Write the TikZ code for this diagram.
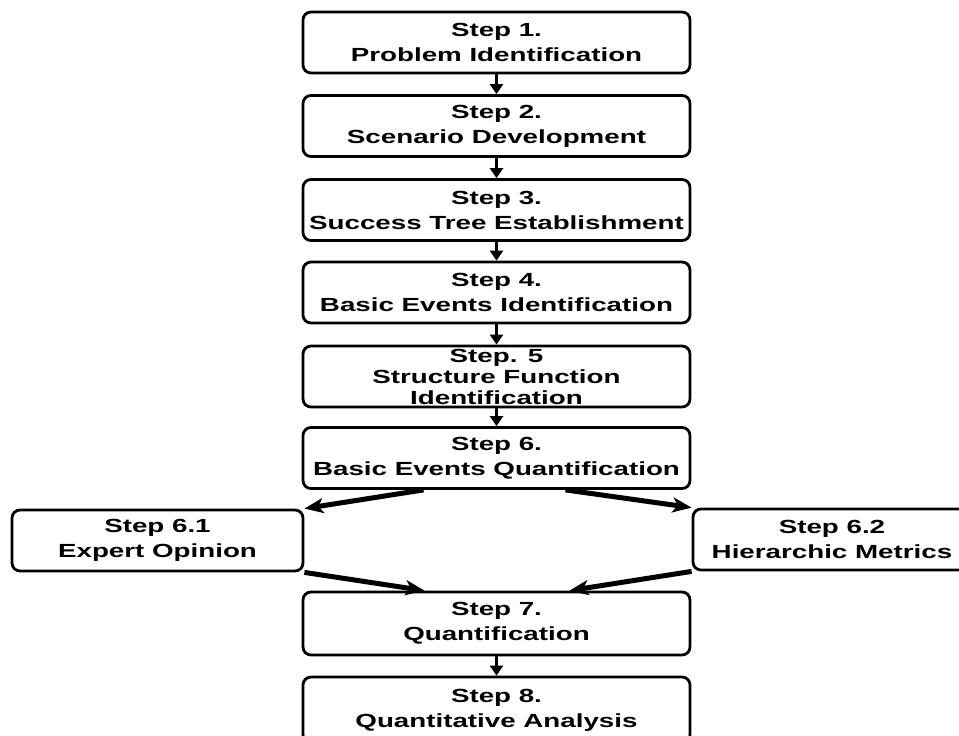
\documentclass[tikz,border=0pt]{standalone}
\usepackage{fontspec}
\usetikzlibrary{arrows.meta}
\newfontfamily\boxfont[FakeStretch=1.46]{Liberation Sans}
\begin{document}
\begin{tikzpicture}[x=1pt,y=-1pt,
  stepbox/.style={draw=black, line width=2.8pt, rounded corners=8pt,
    minimum width=387pt, minimum height=61pt, inner sep=0pt, align=center,
    font=\boxfont\bfseries\fontsize{19}{25}\selectfont},
  sidebox/.style={stepbox, minimum width=291pt},
  link/.style={line width=2.6pt, -{Triangle[width=13pt,length=10pt]}},
  branch/.style={line width=5pt, -{Stealth[width=15pt,length=19pt,inset=5pt]}}]
  \useasboundingbox (0,0) rectangle (959,736);
  \clip (0,0) rectangle (959,736);

  % main sequence of steps
  \node[stepbox] (s1) at (496.5,42.5) {Step 1.\\Problem Identification};
  \node[stepbox] (s2) at (496.5,126) {Step 2.\\Scenario Development};
  \node[stepbox] (s3) at (496.5,210) {Step 3.\\Success Tree Establishment};
  \node[stepbox] (s4) at (496.5,292.5) {Step 4.\\Basic Events Identification};
  \node[stepbox, font=\boxfont\bfseries\fontsize{19}{21}\selectfont] (s5) at (496.5,376.5)
    {Step. 5\\Structure Function\\Identification};
  \node[stepbox] (s6) at (496.5,458) {Step 6.\\Basic Events Quantification};

  % the two quantification branches
  \node[sidebox] (e1) at (157.5,540.5) {Step 6.1\\Expert Opinion};
  \node[sidebox, minimum width=278pt] (e2) at (832,539.5) {Step 6.2\\Hierarchic Metrics};

  \node[stepbox, minimum height=63pt] (s7) at (496.5,623.5) {Step 7.\\Quantification};
  \node[stepbox, minimum height=66pt] (s8) at (496.5,710) {Step 8.\\Quantitative Analysis};

  % connectors
  \draw[link] (s1) -- (s2);
  \draw[link] (s2) -- (s3);
  \draw[link] (s3) -- (s4);
  \draw[link] (s4) -- (s5);
  \draw[link] (s5) -- (s6);
  \draw[link] (s7) -- (s8);

  \draw[branch] ([xshift=-73pt]s6.south) -- (e1.north east);
  \draw[branch] ([xshift=69pt]s6.south) -- (e2.north west);
  \draw[branch] (e1.south east) -- ([xshift=-72pt]s7.north);
  \draw[branch] (e2.south west) -- ([xshift=73pt]s7.north);
\end{tikzpicture}
\end{document}
